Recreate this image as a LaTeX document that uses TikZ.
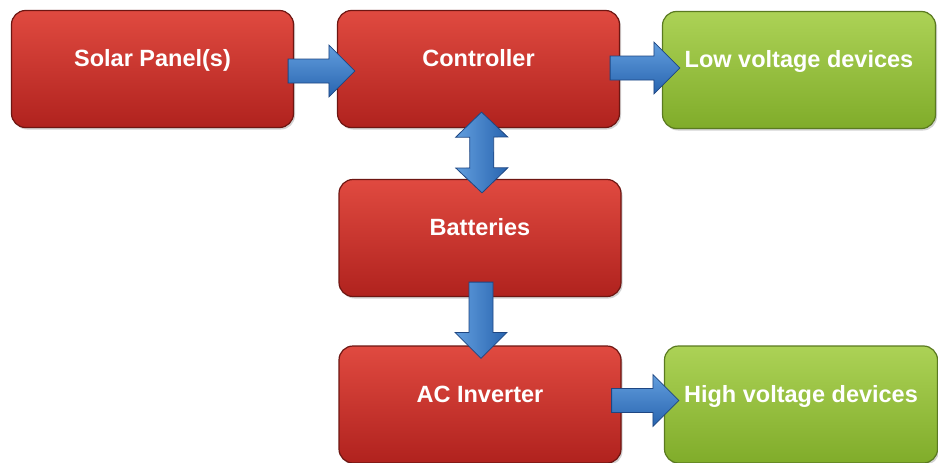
\documentclass[tikz,border=0pt]{standalone}
\usepackage{fontspec}
\setmainfont{Liberation Sans}
\usetikzlibrary{calc,shadows}
\definecolor{redtop}{RGB}{224,74,64}
\definecolor{redbot}{RGB}{176,34,30}
\definecolor{redline}{RGB}{110,22,18}
\definecolor{grntop}{RGB}{172,210,86}
\definecolor{grnbot}{RGB}{128,172,42}
\definecolor{grnline}{RGB}{90,122,32}
\definecolor{blulight}{RGB}{98,158,222}
\definecolor{bludark}{RGB}{40,100,175}
\definecolor{bluline}{RGB}{30,70,130}
\tikzset{
  box/.style={rounded corners=14pt, draw=redline, line width=1.2pt,
    top color=redtop, bottom color=redbot,
    minimum width=282pt, minimum height=117pt, inner sep=0pt,
    text=white, font=\bfseries\fontsize{23.5}{26}\selectfont,
    text height=17pt, text depth=22pt,
    drop shadow={opacity=0.35,shadow xshift=1.5pt,shadow yshift=-2pt}},
  gbox/.style={box, draw=grnline, top color=grntop, bottom color=grnbot,
    minimum width=273pt},
  harr/.style={top color=blulight, bottom color=bludark, draw=bluline, line width=0.8pt},
  varr/.style={left color=blulight, right color=bludark, draw=bluline, line width=0.8pt},
}
\newcommand\blkarrow[3]{%
  \coordinate (q1) at #2; \coordinate (q2) at #3;
  \coordinate (qh) at ($(q2)!26pt!(q1)$);
  \path[#1] ($(q1)!12pt!90:(q2)$) -- ($(qh)!12pt!90:(q2)$) -- ($(qh)!26pt!90:(q2)$)
    -- (q2) -- ($(qh)!26pt!-90:(q2)$) -- ($(qh)!12pt!-90:(q2)$)
    -- ($(q1)!12pt!-90:(q2)$) -- cycle;
}
\newcommand\dblarrow[3]{%
  \coordinate (q1) at #2; \coordinate (q2) at #3;
  \coordinate (qa) at ($(q1)!25pt!(q2)$); \coordinate (qb) at ($(q2)!25pt!(q1)$);
  \path[#1] (q1) -- ($(qa)!26pt!90:(q2)$) -- ($(qa)!12pt!90:(q2)$)
    -- ($(qb)!12pt!90:(q2)$) -- ($(qb)!26pt!90:(q2)$) -- (q2)
    -- ($(qb)!26pt!-90:(q2)$) -- ($(qb)!12pt!-90:(q2)$)
    -- ($(qa)!12pt!-90:(q2)$) -- ($(qa)!26pt!-90:(q2)$) -- cycle;
}
\begin{document}
\begin{tikzpicture}[x=1pt,y=-1pt]
\fill[white] (0,0) rectangle (938,463);
\useasboundingbox (0,0) rectangle (938,463);
\node[box]  (sp) at (152.5,69)  {Solar Panel(s)};
\node[box]  (ct) at (478.5,69)  {Controller};
\node[gbox] (lv) at (799,70)    {Low voltage devices};
\node[box]  (bt) at (480,238)   {Batteries};
\node[box]  (ac) at (480,404.5) {AC Inverter};
\node[gbox] (hv) at (801,404.5) {High voltage devices};
\blkarrow{harr}{($(sp.east)+(-6,2)$)}{($(ct.west)+(18,2)$)}
\blkarrow{harr}{($(ct.east)+(-10,-1)$)}{($(lv.west)+(18,-2)$)}
\dblarrow{varr}{($(ct.south)+(3,-16)$)}{($(bt.north)+(2,14)$)}
\blkarrow{varr}{($(bt.south)+(1,-15)$)}{($(ac.north)+(1,13)$)}
\blkarrow{harr}{($(ac.east)+(-10,-4)$)}{($(hv.west)+(15,-4)$)}
\end{tikzpicture}
\end{document}
